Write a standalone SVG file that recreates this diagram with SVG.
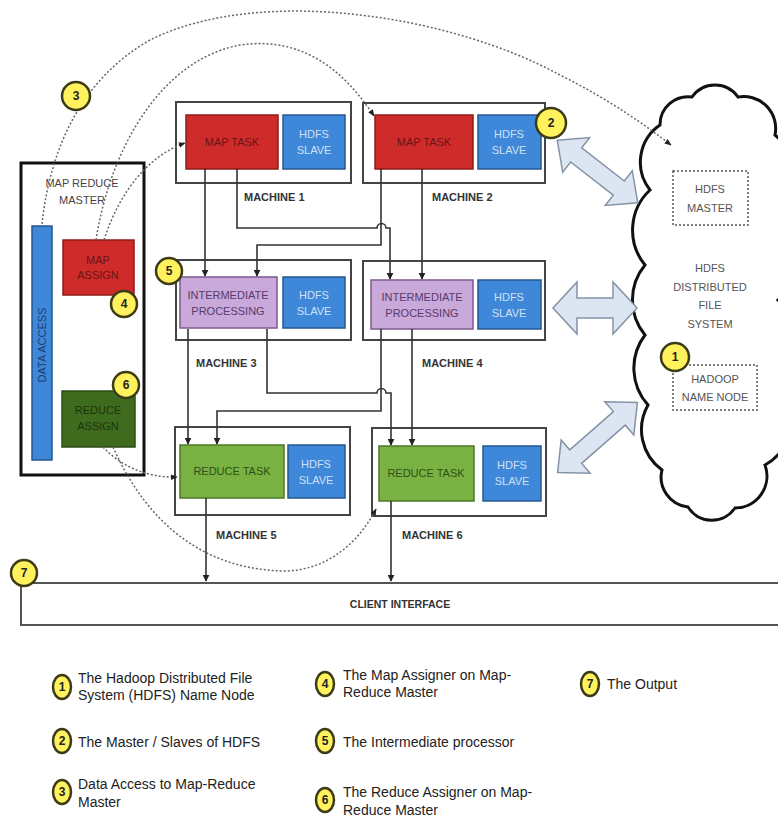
<svg xmlns="http://www.w3.org/2000/svg" width="778" height="823" viewBox="0 0 778 823">
<style>
text{font-family:"Liberation Sans Narrow","Liberation Sans",Arial,sans-serif}
.box{fill:#fff;stroke:#444;stroke-width:2}
.map{fill:#cf2b2b;stroke:#8e1b1b;stroke-width:1.5}
.slave{fill:#3f87d9;stroke:#26578f;stroke-width:1.5}
.inter{fill:#c9a8da;stroke:#7b5a8e;stroke-width:1.5}
.red{fill:#79b243;stroke:#4b7827;stroke-width:1.5}
.lbl{font-size:11px;text-anchor:middle}
.lm{fill:#6a1414}
.ls{fill:#cfe0f4}
.li{fill:#5a3a6c}
.lr{fill:#2f5014}
.mach{font-size:11px;font-weight:bold;fill:#333}
.conn{fill:none;stroke:#333;stroke-width:1.6}
.dash{fill:none;stroke:#666;stroke-width:1.5;stroke-dasharray:2 2}
.badge{fill:#fff25c;stroke:#3b3b18;stroke-width:2.5}
.bn{font-size:12px;font-weight:bold;text-anchor:middle;fill:#222}
.dbl{fill:#dce6f2;stroke:#8593a6;stroke-width:1.5}
.dbox{fill:none;stroke:#555;stroke-width:1.5;stroke-dasharray:2 2}
.cl{font-size:11px;text-anchor:middle;fill:#555}
.leg{font-size:14px;fill:#222}
</style>
<defs>
<marker id="ah" viewBox="0 0 10 10" refX="9" refY="5" markerWidth="7" markerHeight="7" orient="auto" markerUnits="userSpaceOnUse"><path d="M0,0 L10,5 L0,10 z" fill="#222"/></marker>
<marker id="dh" viewBox="0 0 10 10" refX="9" refY="5" markerWidth="7" markerHeight="7" orient="auto" markerUnits="userSpaceOnUse"><path d="M0,1 L10,5 L0,9 z" fill="#222"/></marker>
</defs>

<!-- Cloud -->
<g id="cloud">
<path d="M660,125 A28 28 0 0 1 692,97 A28 28 0 0 1 738,97 A32 32 0 0 1 775,135 A55 55 0 0 1 780,215 A60 60 0 0 1 778,300 A60 60 0 0 1 780,390 A50 50 0 0 1 765,465 A32 32 0 0 1 735,508 A28 28 0 0 1 688,507 A30 30 0 0 1 662,470 A50 50 0 0 1 648,405 A55 55 0 0 1 645,335 A55 55 0 0 1 645,265 A55 55 0 0 1 650,190 A45 45 0 0 1 660,125 Z" fill="#fff" stroke="#111" stroke-width="3"/>
<rect class="dbox" x="673" y="171" width="75" height="54"/>
<text class="cl" x="710" y="193">HDFS</text>
<text class="cl" x="710" y="212">MASTER</text>
<text class="cl" x="710" y="272">HDFS</text>
<text class="cl" x="710" y="291">DISTRIBUTED</text>
<text class="cl" x="710" y="309">FILE</text>
<text class="cl" x="710" y="328">SYSTEM</text>
<rect class="dbox" x="673" y="365" width="84" height="45"/>
<text class="cl" x="715" y="383">HADOOP</text>
<text class="cl" x="715" y="401">NAME NODE</text>
</g>

<!-- Double arrows -->
<g id="hdfs-links">
<polygon class="dbl" transform="translate(597.5,171.5) rotate(37.9)" points="-51,0 -27,-22 -27,-9 27,-9 27,-22 51,0 27,22 27,9 -27,9 -27,22"/>
<polygon class="dbl" transform="translate(595,308)" points="-42,0 -18,-26 -18,-10 18,-10 18,-26 42,0 18,26 18,10 -18,10 -18,26"/>
<polygon class="dbl" transform="translate(597.5,437.5) rotate(-41.2)" points="-53,0 -29,-22 -29,-9 29,-9 29,-22 53,0 29,22 29,9 -29,9 -29,22"/>
</g>

<!-- Map Reduce Master -->
<g id="master">
<rect x="21" y="163" width="123" height="312" fill="#fff" stroke="#111" stroke-width="3"/>
<text x="82" y="187" font-size="11" text-anchor="middle" fill="#444">MAP REDUCE</text>
<text x="82" y="204" font-size="11" text-anchor="middle" fill="#444">MASTER</text>
</g>
<g id="data-access">
<rect x="32" y="226" width="20" height="234" fill="#3f87d9" stroke="#26578f" stroke-width="1.5"/>
<text transform="translate(46,345) rotate(-90)" font-size="11" text-anchor="middle" fill="#1d3e73">DATA ACCESS</text>
</g>
<g id="map-assign">
<rect class="map" x="63" y="240" width="71" height="55"/>
<text class="lbl lm" x="98" y="264">MAP</text>
<text class="lbl lm" x="98" y="279">ASSIGN</text>
</g>
<g id="reduce-assign">
<rect x="62" y="391" width="73" height="56" fill="#3f6b1f" stroke="#2c4d14" stroke-width="1.5"/>
<text class="lbl" x="98" y="414" fill="#1e330c">REDUCE</text>
<text class="lbl" x="98" y="430" fill="#1e330c">ASSIGN</text>
</g>

<!-- Machines -->
<g id="machine1">
<rect class="box" x="176" y="102" width="175" height="81"/>
<rect class="map" x="186" y="115" width="92" height="54"/>
<text class="lbl lm" x="232" y="146">MAP TASK</text>
<rect class="slave" x="283" y="115" width="62" height="54"/>
<text class="lbl ls" x="314" y="138">HDFS</text>
<text class="lbl ls" x="314" y="154">SLAVE</text>
<text class="mach" x="244" y="201">MACHINE 1</text>
</g>
<g id="machine2">
<rect class="box" x="363" y="103" width="182" height="80"/>
<rect class="map" x="375" y="115" width="98" height="54"/>
<text class="lbl lm" x="424" y="146">MAP TASK</text>
<rect class="slave" x="478" y="115" width="63" height="54"/>
<text class="lbl ls" x="509" y="138">HDFS</text>
<text class="lbl ls" x="509" y="154">SLAVE</text>
<text class="mach" x="432" y="201">MACHINE 2</text>
</g>
<g id="machine3">
<rect class="box" x="176" y="260" width="175" height="80"/>
<rect class="inter" x="180" y="277" width="97" height="51"/>
<text class="lbl li" x="228" y="299">INTERMEDIATE</text>
<text class="lbl li" x="228" y="315">PROCESSING</text>
<rect class="slave" x="283" y="277" width="62" height="51"/>
<text class="lbl ls" x="314" y="299">HDFS</text>
<text class="lbl ls" x="314" y="315">SLAVE</text>
<text class="mach" x="196" y="367">MACHINE 3</text>
</g>
<g id="machine4">
<rect class="box" x="363" y="261" width="182" height="79"/>
<rect class="inter" x="371" y="280" width="102" height="49"/>
<text class="lbl li" x="422" y="301">INTERMEDIATE</text>
<text class="lbl li" x="422" y="317">PROCESSING</text>
<rect class="slave" x="478" y="280" width="63" height="49"/>
<text class="lbl ls" x="509" y="301">HDFS</text>
<text class="lbl ls" x="509" y="317">SLAVE</text>
<text class="mach" x="422" y="367">MACHINE 4</text>
</g>
<g id="machine5">
<rect class="box" x="175" y="427" width="175" height="88"/>
<rect class="red" x="180" y="445" width="104" height="53"/>
<text class="lbl lr" x="232" y="475">REDUCE TASK</text>
<rect class="slave" x="288" y="445" width="57" height="53"/>
<text class="lbl ls" x="316" y="468">HDFS</text>
<text class="lbl ls" x="316" y="484">SLAVE</text>
<text class="mach" x="216" y="539">MACHINE 5</text>
</g>
<g id="machine6">
<rect class="box" x="372" y="428" width="174" height="88"/>
<rect class="red" x="379" y="446" width="95" height="55"/>
<text class="lbl lr" x="426" y="477">REDUCE TASK</text>
<rect class="slave" x="483" y="446" width="58" height="55"/>
<text class="lbl ls" x="512" y="469">HDFS</text>
<text class="lbl ls" x="512" y="485">SLAVE</text>
<text class="mach" x="402" y="539">MACHINE 6</text>
</g>

<!-- Client interface -->
<g id="client">
<rect x="21" y="583" width="775" height="42" fill="#fff" stroke="#555" stroke-width="2"/>
<text x="400" y="608" font-size="10.5" font-weight="bold" text-anchor="middle" fill="#333">CLIENT INTERFACE</text>
</g>

<!-- Connectors -->
<g id="connectors">
<path class="conn" d="M205,169 V276" marker-end="url(#ah)"/>
<path class="conn" d="M237,169 V228 H377 A4.5 4.5 0 0 1 386,228 H390 V279" marker-end="url(#ah)"/>
<path class="conn" d="M381,169 V245 H257 V276" marker-end="url(#ah)"/>
<path class="conn" d="M422,169 V279" marker-end="url(#ah)"/>
<path class="conn" d="M188,329 V444" marker-end="url(#ah)"/>
<path class="conn" d="M267,329 V393 H377 A4.5 4.5 0 0 1 386,393 H391 V445" marker-end="url(#ah)"/>
<path class="conn" d="M381,329 V411 H217 V444" marker-end="url(#ah)"/>
<path class="conn" d="M412,329 V445" marker-end="url(#ah)"/>
<path class="conn" d="M206,498 V581" marker-end="url(#ah)"/>
<path class="conn" d="M391,501 V581" marker-end="url(#ah)"/>
<path class="dash" d="M42,224 C50,150 80,80 150,40 C260,-15 450,15 560,75 C610,100 645,125 671,145" marker-end="url(#dh)"/>
<path class="dash" d="M96,240 C110,150 160,60 240,45 C310,35 350,80 374,116" marker-end="url(#dh)"/>
<path class="dash" d="M104,240 C120,190 150,155 185,143" marker-end="url(#dh)"/>
<path class="dash" d="M103,447 C120,465 145,478 177,477" marker-end="url(#dh)"/>
<path class="dash" d="M113,447 C150,530 210,570 285,571 C330,570 360,540 376,509" marker-end="url(#dh)"/>
</g>

<!-- Badges -->
<g id="badges">
<circle class="badge" cx="76" cy="96" r="14"/><text class="bn" x="76" y="100">3</text>
<circle class="badge" cx="551" cy="123" r="15"/><text class="bn" x="551" y="127">2</text>
<circle class="badge" cx="124" cy="304" r="13"/><text class="bn" x="124" y="308">4</text>
<circle class="badge" cx="169" cy="271" r="13"/><text class="bn" x="169" y="275">5</text>
<circle class="badge" cx="126" cy="385" r="13"/><text class="bn" x="126" y="389">6</text>
<circle class="badge" cx="675" cy="357" r="14"/><text class="bn" x="675" y="361">1</text>
<circle class="badge" cx="24" cy="573" r="13"/><text class="bn" x="24" y="577">7</text>
</g>

<!-- Legend -->
<g id="legend">
<ellipse class="badge" cx="62" cy="687" rx="9" ry="12"/><text class="bn" x="62" y="691" font-size="10">1</text>
<text class="leg" x="78" y="683">The Hadoop Distributed File</text>
<text class="leg" x="78" y="700">System (HDFS) Name Node</text>
<ellipse class="badge" cx="62" cy="741" rx="9" ry="12"/><text class="bn" x="62" y="745" font-size="10">2</text>
<text class="leg" x="78" y="747">The Master / Slaves of HDFS</text>
<ellipse class="badge" cx="62" cy="792" rx="9" ry="12"/><text class="bn" x="62" y="796" font-size="10">3</text>
<text class="leg" x="78" y="789">Data Access to Map-Reduce</text>
<text class="leg" x="78" y="807">Master</text>
<ellipse class="badge" cx="325" cy="684" rx="9" ry="12"/><text class="bn" x="325" y="688" font-size="10">4</text>
<text class="leg" x="343" y="680">The Map Assigner on Map-</text>
<text class="leg" x="343" y="697">Reduce Master</text>
<ellipse class="badge" cx="325" cy="741" rx="9" ry="12"/><text class="bn" x="325" y="745" font-size="10">5</text>
<text class="leg" x="343" y="747">The Intermediate processor</text>
<ellipse class="badge" cx="325" cy="800" rx="9" ry="12"/><text class="bn" x="325" y="804" font-size="10">6</text>
<text class="leg" x="343" y="797">The Reduce Assigner on Map-</text>
<text class="leg" x="343" y="815">Reduce Master</text>
<ellipse class="badge" cx="590" cy="684" rx="9" ry="12"/><text class="bn" x="590" y="688" font-size="10">7</text>
<text class="leg" x="607" y="689">The Output</text>
</g>
</svg>
